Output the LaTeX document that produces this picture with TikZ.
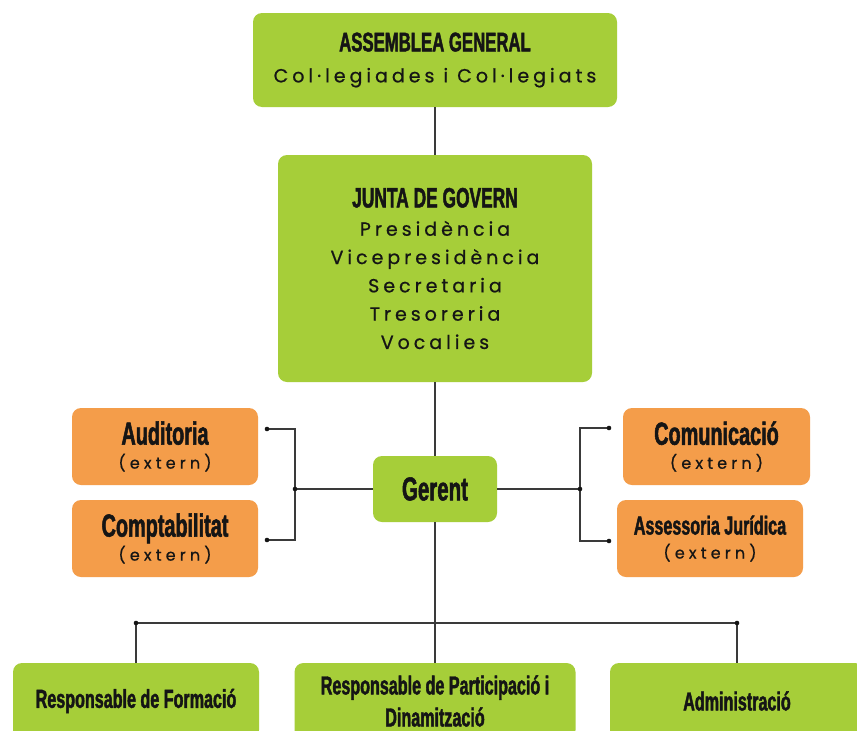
\documentclass[tikz,border=0pt]{standalone}
\usepackage{fontspec}
\setmainfont{Liberation Sans}
\newfontfamily\condf[FakeStretch=0.62,FakeBold=1.6]{Liberation Sans Bold}
\newfontfamily\spacedf[LetterSpace=21,FakeBold=0.7]{Poppins}
\newfontfamily\extf[LetterSpace=26,FakeBold=0.7]{Poppins}
\definecolor{boxgreen}{HTML}{A6CE39}
\definecolor{boxorange}{HTML}{F49D4A}
\definecolor{ink}{HTML}{151515}
\definecolor{linecol}{HTML}{3A3A3A}
\begin{document}
\begin{tikzpicture}[x=1pt,y=-1pt,
  gbox/.style={fill=boxgreen, rounded corners=9pt, inner sep=0pt, align=center, text=ink},
  obox/.style={fill=boxorange, rounded corners=9pt, inner sep=0pt, align=center, text=ink},
  conn/.style={draw=linecol, line width=1.3pt},
  jdot/.style={fill=ink},
]
\useasboundingbox (0,0) rectangle (857,731);
\clip (0,0) rectangle (857,731);
\fill[white] (0,0) rectangle (857,731);

% top boxes
\node[gbox, minimum width=364pt, minimum height=94pt, font=\fontsize{18}{31}\selectfont] (ag) at (435,60)
  {{\condf\fontsize{27}{30}\selectfont ASSEMBLEA GENERAL}\\{\spacedf\fontsize{19}{22}\selectfont Col·legiades i Col·legiats}};
\node[gbox, minimum width=314pt, minimum height=227pt, font=\spacedf\fontsize{19}{28.3}\selectfont] (jg) at (435,268.5)
  {{\condf\fontsize{28}{30}\selectfont JUNTA DE GOVERN}\\Presidència\\Vicepresidència\\Secretaria\\Tresoreria\\Vocalies};

% gerent
\node[gbox, minimum width=124pt, minimum height=66pt, font=\condf\fontsize{33}{36}\selectfont] (gerent) at (435,489) {Gerent};

% orange boxes
\node[obox, minimum width=186pt, minimum height=77pt, font=\fontsize{15}{24}\selectfont] (aud) at (165,446.5)
  {{\condf\fontsize{32}{34}\selectfont Auditoria}\\{\extf\fontsize{16}{18}\selectfont (extern)}};
\node[obox, minimum width=186pt, minimum height=77pt, font=\fontsize{15}{24}\selectfont] (comp) at (165,538.5)
  {{\condf\fontsize{32}{34}\selectfont Comptabilitat}\\{\extf\fontsize{16}{18}\selectfont (extern)}};
\node[obox, minimum width=187pt, minimum height=77pt, font=\fontsize{15}{24}\selectfont] (comu) at (716.5,446.5)
  {{\condf\fontsize{32}{34}\selectfont Comunicació}\\{\extf\fontsize{16}{18}\selectfont (extern)}};
\node[obox, minimum width=186pt, minimum height=77pt, font=\fontsize{15}{24}\selectfont] (ases) at (710,538.5)
  {{\condf\fontsize{26}{28}\selectfont Assessoria Jurídica}\\{\extf\fontsize{16}{18}\selectfont (extern)}};

% bottom boxes
\node[gbox, minimum width=246pt, minimum height=76pt, font=\condf\fontsize{26}{32}\selectfont] (rf) at (136,701) {Responsable de Formació};
\node[gbox, minimum width=281pt, minimum height=76pt, font=\condf\fontsize{26}{32}\selectfont] (rp) at (435,701) {Responsable de Participació i\\Dinamització};
\node[gbox, minimum width=254pt, minimum height=76pt, font=\condf\fontsize{26}{32}\selectfont] (ra) at (737,701) {Administració};

% junction coordinates
\coordinate (jl) at (295,489);
\coordinate (ja) at (267,429);
\coordinate (jc) at (267,540);
\coordinate (jr) at (580,489);
\coordinate (jm) at (609,428);
\coordinate (js) at (609,541);
\coordinate (bl) at (136,623);
\coordinate (br) at (737,623);

% connectors
\draw[conn] (ag.south) -- (jg.north);
\draw[conn] (jg.south) -- (gerent.north);
\draw[conn] (gerent.west) -- (jl);
\draw[conn] (ja) -| (jl) |- (jc);
\draw[conn] (gerent.east) -- (jr);
\draw[conn] (jm) -| (jr) |- (js);
\draw[conn] (gerent.south) -- (rp.north);
\draw[conn] (rf.north) -- (bl) -- (br) -- (ra.north);

% dots
\foreach \p in {jl,ja,jc,jr,jm,js,bl,br} \fill[jdot] (\p) circle (2.3pt);
\end{tikzpicture}
\end{document}
